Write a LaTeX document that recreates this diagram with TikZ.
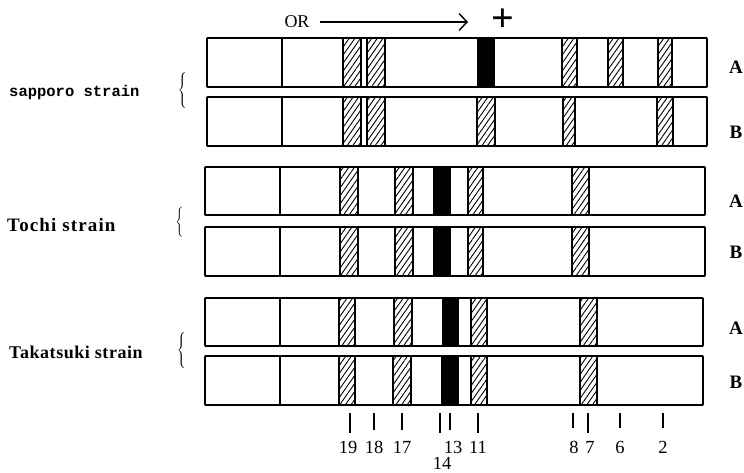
\documentclass[tikz,border=0pt]{standalone}
\usepackage{fontspec}
\setmainfont{Liberation Serif}
\setmonofont{Liberation Mono}
\usetikzlibrary{patterns.meta,arrows.meta}
\newcommand\gelrow[7]{%
  \foreach \a/\b in {#6} {\draw[hatchband] (\a,#3) rectangle (\b,#4);}
  \foreach \a/\b in {#7} {\fill[blackband] (\a,#3) rectangle (\b,#4);}
  \draw[divider] (#5,#3) -- (#5,#4);
  \draw[strip] (#1,#3) rectangle (#2,#4);
}
\tikzset{
  strip/.style={draw, line width=1.9pt, rounded corners=0.8pt},
  divider/.style={line width=1.5pt},
  hatchband/.style={draw, line width=1.6pt, pattern={Lines[angle=55,distance=4.6pt,line width=0.9pt]}},
  blackband/.style={fill=black},
  lanelbl/.style={font=\bfseries\fontsize{19}{19}\selectfont, inner sep=0pt},
  strainlbl/.style={font=\bfseries\fontsize{19}{19}\selectfont\addfontfeature{LetterSpace=6}, anchor=west, inner sep=0pt},
  brace/.style={inner sep=0pt},
  numlbl/.style={font=\fontsize{18.5}{18.5}\selectfont, inner sep=0pt},
  tick/.style={line width=1.5pt},
}
\begin{document}
\begin{tikzpicture}[x=1pt,y=-1pt]
\useasboundingbox (0,0) rectangle (744,473);
% header
\node[font=\fontsize{18}{18}\selectfont, inner sep=0pt] (orlbl) at (297,22) {OR};
\coordinate (arrend) at (468,22);
\draw[line width=1.4pt, -{Straight Barb[length=8pt,width=17pt,line width=1.4pt]}] ([xshift=10pt]orlbl.east) -- (arrend);
\node[font=\bfseries\fontsize{40}{40}\selectfont, inner sep=0pt] (plus) at (503,20) {+};
% sapporo
\gelrow{207}{707}{38}{87}{282}{343/361,367/385,562/577,608/623,658/672}{477/495}
\gelrow{207}{707}{97}{146}{282}{343/361,367/385,477/495,563/575,657/673}{}
% Tochi
\gelrow{205}{705}{167}{215}{280}{340/358,395/413,468/483,572/589}{433/451}
\gelrow{205}{705}{227}{276}{280}{340/358,395/413,468/483,572/589}{433/451}
% Takatsuki
\gelrow{205}{703}{298}{346}{280}{339/355,394/412,471/487,580/597}{442/459}
\gelrow{205}{703}{356}{405}{280}{339/355,393/411,471/487,580/597}{441/459}
% lane labels
\node[lanelbl] (sA) at (736,67) {A};
\node[lanelbl] (sB) at (736,132) {B};
\node[lanelbl] (tA) at (736,201) {A};
\node[lanelbl] (tB) at (736,252) {B};
\node[lanelbl] (kA) at (736,328) {A};
\node[lanelbl] (kB) at (736,382) {B};
% strain labels
\node[font=\ttfamily\bfseries\fontsize{15.5}{15.5}\selectfont, anchor=west, inner sep=0pt] (sap) at (9,92) {sapporo strain};
\node[strainlbl] (toc) at (7,225) {Tochi strain};
\node[strainlbl, font=\bfseries\fontsize{18}{18}\selectfont\addfontfeature{LetterSpace=3}] (tak) at (9,352) {Takatsuki strain};
\node[brace] (br1) at (183,91) {$\left\{\vrule height 16pt depth 16pt width 0pt\right.$};
\node[brace] (br2) at (180,223) {$\left\{\vrule height 14pt depth 14pt width 0pt\right.$};
\node[brace] (br3) at (182,351) {$\left\{\vrule height 16pt depth 16pt width 0pt\right.$};
% ticks
\foreach \x/\yb in {350/433,374/430,402/430,440/433,450/430,478/433,588/433,620/428,663/428}
  \draw[tick] (\x,413) -- (\x,\yb);
\draw[line width=2.4pt] (573,413) -- (573,428);
\node[numlbl] (n19) at (348,447) {19};
\node[numlbl] (n18) at (374,447) {18};
\node[numlbl] (n17) at (402,447) {17};
\node[numlbl] (n13) at (453,447) {13};
\node[numlbl] (n11) at (478,447) {11};
\node[numlbl] (n8) at (574,447) {8};
\node[numlbl] (n7) at (590,447) {7};
\node[numlbl] (n6) at (620,447) {6};
\node[numlbl] (n2) at (663,447) {2};
\node[numlbl] (n14) at (442,463) {14};
\end{tikzpicture}
\end{document}
